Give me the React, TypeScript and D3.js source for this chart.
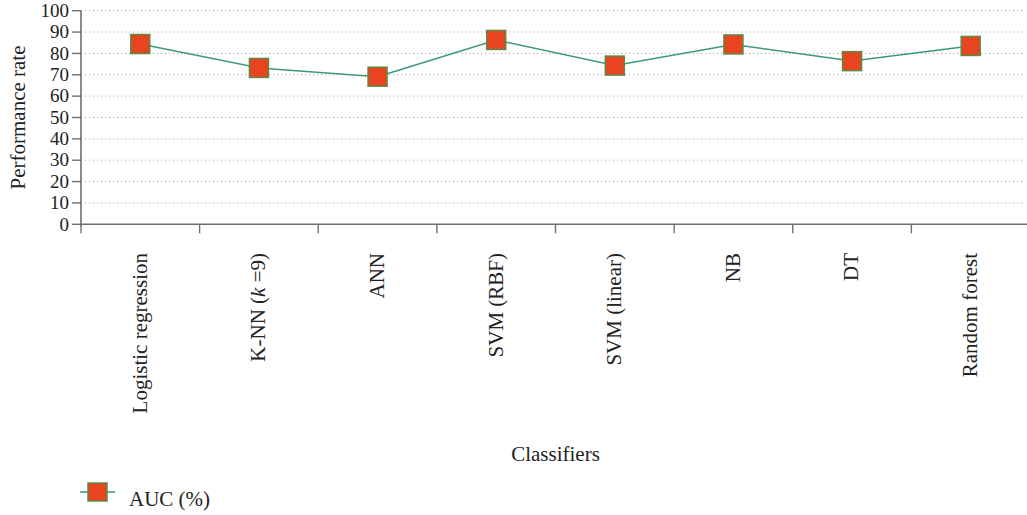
import React from "react";
import * as d3 from "d3";

const categories: string[] = [
  "Logistic regression",
  "K-NN (k =9)",
  "ANN",
  "SVM (RBF)",
  "SVM (linear)",
  "NB",
  "DT",
  "Random forest",
];
const aucValues: number[] = [84.4, 73.2, 69.1, 86.3, 74.3, 84.2, 76.4, 83.5];
const yTicks: number[] = [0, 10, 20, 30, 40, 50, 60, 70, 80, 90, 100];
const seriesName = "AUC (%)";
const xTitle = "Classifiers";
const yTitle = "Performance rate";

const W = 1027;
const H = 515;
const FONT = "'Liberation Serif', 'DejaVu Serif', serif";
const FS = 21;
const TICK_FS = 19;

export default function App() {
  const x = d3.scaleBand<string>().domain(categories).range([81, 1030]).padding(0);
  const y = d3.scaleLinear().domain([0, 100]).range([224.3, 10.7]);
  const line = d3
    .line<number>()
    .x((_, i) => (x(categories[i]) as number) + x.bandwidth() / 2)
    .y((d) => y(d));
  const boundaries = categories.map((c) => x(c) as number);
  const ms = 19;

  return (
    <svg
      width={W}
      height={H}
      style={{ position: "absolute", left: 0, top: 0, background: "#fff" }}
      fontFamily={FONT}
    >
      {/* grid */}
      {yTicks
        .filter((t) => t > 0)
        .map((t) => (
          <line
            key={"g" + t}
            x1={81}
            x2={1022}
            y1={y(t)}
            y2={y(t)}
            stroke="#9a9a9a"
            strokeWidth={1}
            strokeDasharray="1,3"
          />
        ))}
      {/* y axis */}
      <line x1={81} x2={81} y1={y(100)} y2={y(0) + 2} stroke="#707070" strokeWidth={1.6} />
      {yTicks.map((t) => (
        <g key={"t" + t}>
          <line x1={72} x2={81} y1={y(t)} y2={y(t)} stroke="#707070" strokeWidth={1.4} />
          <text x={69} y={y(t)} dy="0.33em" textAnchor="end" fontSize={TICK_FS} fill="#222">
            {t}
          </text>
        </g>
      ))}
      <text
        transform={`translate(25,${(y(0) + y(100)) / 2}) rotate(-90)`}
        textAnchor="middle"
        fontSize={FS}
        fill="#222"
      >
        {yTitle}
      </text>
      {/* x axis */}
      <line x1={81} x2={1027} y1={y(0)} y2={y(0)} stroke="#707070" strokeWidth={1.6} />
      {boundaries.map((b, i) => (
        <line key={"xt" + i} x1={b} x2={b} y1={y(0)} y2={y(0) + 9} stroke="#707070" strokeWidth={1.4} />
      ))}
      {categories.map((c) => {
        const cx = (x(c) as number) + x.bandwidth() / 2;
        const isKnn = c.startsWith("K-NN");
        return (
          <text
            key={"xl" + c}
            transform={`translate(${cx},253) rotate(-90)`}
            textAnchor="end"
            dy="0.3em"
            fontSize={FS}
            fill="#222"
          >
            {isKnn ? (
              <>
                K-NN (<tspan fontStyle="italic">k</tspan> =9)
              </>
            ) : (
              c
            )}
          </text>
        );
      })}
      <text x={(81 + 1030) / 2} y={461} textAnchor="middle" fontSize={FS} fill="#222">
        {xTitle}
      </text>
      {/* series */}
      <path d={line(aucValues) || ""} fill="none" stroke="#3b9a73" strokeWidth={1.5} />
      {aucValues.map((v, i) => {
        const cx = (x(categories[i]) as number) + x.bandwidth() / 2;
        return (
          <rect
            key={"m" + i}
            x={cx - ms / 2}
            y={y(v) - ms / 2}
            width={ms}
            height={ms}
            fill="#e8441f"
            stroke="#5f8a46"
            strokeWidth={1.5}
          />
        );
      })}
      {/* legend */}
      <line x1={80} x2={115} y1={492} y2={492} stroke="#3b9a73" strokeWidth={1.5} />
      <rect x={88} y={483} width={19} height={18} fill="#e8441f" stroke="#5f8a46" strokeWidth={1.5} />
      <text x={129} y={506} fontSize={FS} fill="#222">
        {seriesName}
      </text>
    </svg>
  );
}
